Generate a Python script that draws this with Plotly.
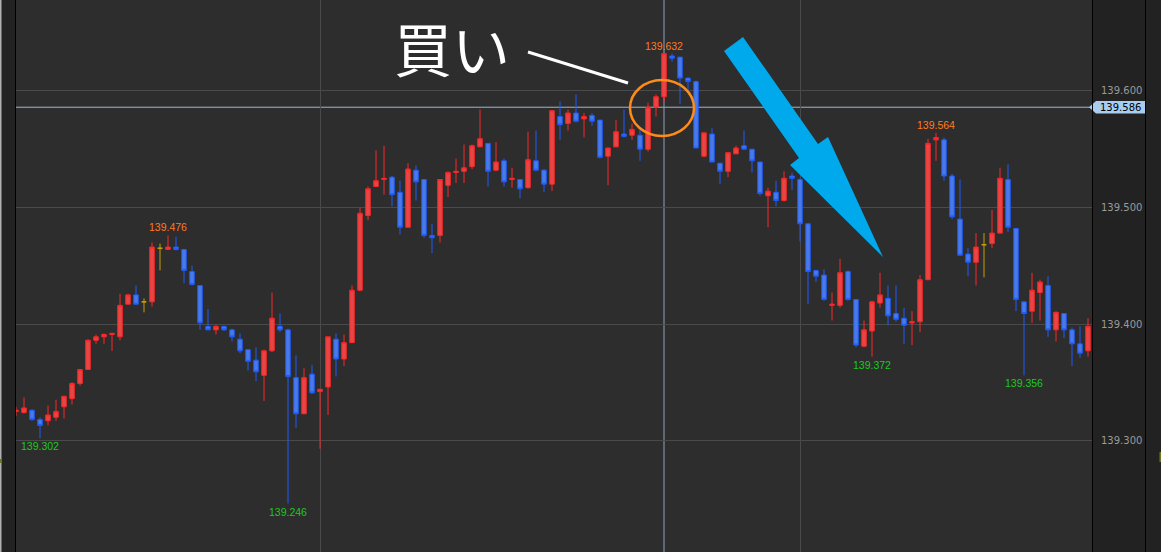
import plotly.graph_objects as go

# ---------------- data ----------------
opens = [139.325, 139.324, 139.326, 139.318, 139.317, 139.320, 139.329, 139.336, 139.349, 139.361,
         139.386, 139.389, 139.391, 139.389, 139.417, 139.425, 139.419, 139.419, 139.465, 139.464,
         139.466, 139.464, 139.445, 139.433, 139.398, 139.395, 139.398, 139.395, 139.387, 139.378,
         139.369, 139.356, 139.377, 139.398, 139.395, 139.354, 139.323, 139.357, 139.342, 139.346,
         139.387, 139.370, 139.384, 139.429, 139.493, 139.518, 139.524, 139.526, 139.513, 139.483,
         139.532, 139.524, 139.476, 139.476, 139.519, 139.530, 139.531, 139.535, 139.552, 139.555,
         139.532, 139.540, 139.524, 139.524, 139.517, 139.540, 139.532, 139.520, 139.578, 139.572,
         139.581, 139.576, 139.579, 139.575, 139.544, 139.552, 139.563, 139.562, 139.562, 139.550,
         139.586, 139.595, 139.630, 139.629, 139.611, 139.608, 139.544, 139.563, 139.538, 139.531,
         139.546, 139.553, 139.550, 139.539, 139.510, 139.513, 139.506, 139.527, 139.524, 139.486,
         139.446, 139.442, 139.416, 139.416, 139.445, 139.421, 139.381, 139.394, 139.418, 139.422,
         139.409, 139.405, 139.401, 139.402, 139.438, 139.558, 139.558, 139.527, 139.490, 139.460,
         139.453, 139.468, 139.469, 139.478, 139.524, 139.482, 139.419, 139.411, 139.427, 139.433,
         139.395, 139.409, 139.395, 139.383, 139.377]
highs = [139.329, 139.337, 139.327, 139.320, 139.330, 139.335, 139.338, 139.350, 139.361, 139.387,
         139.391, 139.392, 139.392, 139.426, 139.426, 139.433, 139.422, 139.470, 139.469, 139.476,
         139.475, 139.464, 139.450, 139.433, 139.413, 139.399, 139.398, 139.396, 139.392, 139.378,
         139.380, 139.378, 139.427, 139.409, 139.396, 139.373, 139.362, 139.365, 139.344, 139.389,
         139.392, 139.391, 139.433, 139.500, 139.518, 139.549, 139.553, 139.527, 139.523, 139.538,
         139.536, 139.524, 139.486, 139.524, 139.531, 139.542, 139.554, 139.554, 139.584, 139.555,
         139.556, 139.542, 139.534, 139.524, 139.565, 139.566, 139.533, 139.583, 139.591, 139.584,
         139.597, 139.581, 139.581, 139.575, 139.551, 139.575, 139.584, 139.572, 139.567, 139.590,
         139.597, 139.632, 139.632, 139.629, 139.611, 139.609, 139.564, 139.568, 139.538, 139.547,
         139.553, 139.566, 139.550, 139.539, 139.517, 139.523, 139.531, 139.530, 139.525, 139.486,
         139.446, 139.447, 139.427, 139.456, 139.446, 139.421, 139.403, 139.420, 139.444, 139.433,
         139.433, 139.414, 139.411, 139.442, 139.559, 139.564, 139.560, 139.529, 139.524, 139.465,
         139.478, 139.478, 139.498, 139.534, 139.537, 139.482, 139.419, 139.444, 139.438, 139.441,
         139.411, 139.409, 139.397, 139.398, 139.405]
lows = [139.321, 139.323, 139.317, 139.302, 139.313, 139.317, 139.319, 139.331, 139.347, 139.361,
        139.383, 139.383, 139.377, 139.386, 139.417, 139.417, 139.410, 139.415, 139.446, 139.464,
        139.463, 139.435, 139.433, 139.395, 139.395, 139.391, 139.394, 139.385, 139.375, 139.360,
        139.351, 139.334, 139.376, 139.393, 139.246, 139.311, 139.323, 139.340, 139.293, 139.322,
        139.355, 139.364, 139.384, 139.428, 139.489, 139.518, 139.511, 139.501, 139.477, 139.483,
        139.506, 139.474, 139.461, 139.470, 139.509, 139.521, 139.521, 139.533, 139.552, 139.518,
        139.531, 139.518, 139.517, 139.508, 139.516, 139.531, 139.513, 139.514, 139.558, 139.566,
        139.573, 139.560, 139.570, 139.542, 139.519, 139.552, 139.560, 139.558, 139.540, 139.548,
        139.578, 139.590, 139.625, 139.589, 139.600, 139.551, 139.543, 139.539, 139.520, 139.526,
        139.546, 139.550, 139.530, 139.510, 139.483, 139.501, 139.505, 139.515, 139.471, 139.417,
        139.436, 139.420, 139.403, 139.414, 139.420, 139.380, 139.380, 139.372, 139.414, 139.399,
        139.402, 139.383, 139.382, 139.393, 139.438, 139.540, 139.523, 139.490, 139.459, 139.441,
        139.433, 139.440, 139.465, 139.478, 139.479, 139.411, 139.356, 139.401, 139.403, 139.389,
        139.385, 139.388, 139.364, 139.371, 139.372]
closes = [139.326, 139.328, 139.318, 139.313, 139.322, 139.325, 139.338, 139.349, 139.361, 139.386,
          139.389, 139.391, 139.392, 139.416, 139.425, 139.417, 139.419, 139.466, 139.465, 139.466,
          139.464, 139.446, 139.434, 139.401, 139.395, 139.398, 139.395, 139.389, 139.377, 139.368,
          139.359, 139.377, 139.405, 139.395, 139.355, 139.323, 139.354, 139.341, 139.344, 139.389,
          139.370, 139.384, 139.429, 139.495, 139.516, 139.523, 139.525, 139.511, 139.483, 139.533,
          139.522, 139.476, 139.474, 139.524, 139.530, 139.531, 139.534, 139.553, 139.559, 139.531,
          139.539, 139.522, 139.525, 139.516, 139.541, 139.532, 139.520, 139.583, 139.571, 139.581,
          139.574, 139.578, 139.574, 139.543, 139.551, 139.565, 139.561, 139.567, 139.550, 139.586,
          139.595, 139.632, 139.628, 139.611, 139.608, 139.551, 139.564, 139.539, 139.531, 139.547,
          139.551, 139.550, 139.540, 139.512, 139.514, 139.506, 139.525, 139.525, 139.486, 139.445,
          139.441, 139.421, 139.417, 139.444, 139.421, 139.382, 139.395, 139.419, 139.425, 139.407,
          139.404, 139.399, 139.402, 139.438, 139.555, 139.560, 139.527, 139.492, 139.459, 139.453,
          139.466, 139.468, 139.478, 139.525, 139.483, 139.421, 139.409, 139.429, 139.436, 139.395,
          139.410, 139.395, 139.383, 139.375, 139.398]

high_label_idx = [19, 81, 115]
low_label_idx = [3, 34, 107, 126]
y_ticks = [139.300, 139.400, 139.500, 139.600]
session_lines = [38, 98]
cross_idx = 81
cross_price = 139.586
buy_text = "買い"

# ---------------- layout helpers ----------------
W, H = 1161, 552
ML, MR = 16, 69
PW = W - ML - MR


def px(x):
    return (x - ML) / PW


def py(y):
    return (H - y) / H


idx = list(range(len(opens)))
doji = [i for i in idx if opens[i] == closes[i]]
norm = [i for i in idx if opens[i] != closes[i]]

fig = go.Figure()
fig.add_trace(go.Candlestick(
    x=norm,
    open=[opens[i] for i in norm], high=[highs[i] for i in norm],
    low=[lows[i] for i in norm], close=[closes[i] for i in norm],
    increasing=dict(line=dict(color="#ff2626", width=1), fillcolor="#e64646"),
    decreasing=dict(line=dict(color="#1f5cff", width=1), fillcolor="#4a7ae6"),
    hoverinfo="skip", showlegend=False,
))
fig.add_trace(go.Candlestick(
    x=doji,
    open=[opens[i] for i in doji], high=[highs[i] for i in doji],
    low=[lows[i] for i in doji], close=[closes[i] for i in doji],
    increasing=dict(line=dict(color="#c89e00", width=1), fillcolor="#c89e00"),
    decreasing=dict(line=dict(color="#c89e00", width=1), fillcolor="#c89e00"),
    hoverinfo="skip", showlegend=False,
))

anns = []
for i in high_label_idx:
    anns.append(dict(x=i, y=highs[i], xref="x", yref="y", text=f"{highs[i]:.3f}",
                     showarrow=False, yshift=8, xanchor="center", yanchor="middle",
                     font=dict(family="Liberation Sans", size=10.5, color="#ff7a1e")))
for i in low_label_idx:
    anns.append(dict(x=i, y=lows[i], xref="x", yref="y", text=f"{lows[i]:.3f}",
                     showarrow=False, yshift=-8, xanchor="center", yanchor="middle",
                     font=dict(family="Liberation Sans", size=10.5, color="#1ec81e")))
anns.append(dict(x=px(452), y=py(47), xref="paper", yref="paper", text=buy_text,
                 showarrow=False, xanchor="center", yanchor="middle",
                 font=dict(family="Noto Sans CJK JP", size=58, color="#ffffff")))
anns.append(dict(x=px(1120), y=cross_price, xref="paper", yref="y", text=f"{cross_price:.3f}",
                 showarrow=False, xanchor="center", yanchor="middle",
                 font=dict(family="DejaVu Sans", size=10, color="#000000")))

hh = 6.2 * (139.678 - 139.2044) / H
shapes = [
    # crosshair
    dict(type="line", xref="paper", yref="y", x0=0, x1=1, y0=cross_price, y1=cross_price,
         line=dict(color="#9ab6d4", width=1), layer="below"),
    dict(type="line", xref="x", yref="paper", x0=cross_idx, x1=cross_idx, y0=0, y1=1,
         line=dict(color="#8ea4bc", width=1), layer="below"),
    # price tag
    dict(type="path", xref="paper", yref="y",
         path=(f"M {px(1089)},{cross_price} L {px(1096)},{cross_price + hh} "
               f"L {px(1145)},{cross_price + hh} L {px(1145)},{cross_price - hh} "
               f"L {px(1096)},{cross_price - hh} Z"),
         fillcolor="#a9cdef", line=dict(color="#a9cdef", width=0)),
    # panel borders
    dict(type="rect", xref="paper", yref="paper", x0=px(0), x1=px(1.5), y0=0, y1=1,
         fillcolor="#b0b0b0", line=dict(width=0)),
    dict(type="line", xref="paper", yref="paper", x0=px(15.5), x1=px(15.5), y0=0, y1=1,
         line=dict(color="#000000", width=1)),
    dict(type="line", xref="paper", yref="paper", x0=px(1092.5), x1=px(1092.5), y0=0, y1=1,
         line=dict(color="#000000", width=1)),
    dict(type="line", xref="paper", yref="paper", x0=px(1145.5), x1=px(1145.5), y0=0, y1=1,
         line=dict(color="#000000", width=1)),
    dict(type="rect", xref="paper", yref="paper", x0=px(1159.5), x1=px(1161), y0=py(462), y1=py(452),
         fillcolor="#6a7a20", line=dict(width=0)),
    dict(type="rect", xref="paper", yref="paper", x0=px(0), x1=px(1.5), y0=py(463), y1=py(459),
         fillcolor="#6a7a20", line=dict(width=0)),
    # white pointer line
    dict(type="line", xref="paper", yref="paper", x0=px(528), y0=py(52), x1=px(628), y1=py(83),
         line=dict(color="#ffffff", width=3)),
    # orange circle
    dict(type="circle", xref="paper", yref="paper", x0=px(630), x1=px(694), y0=py(136), y1=py(80),
         line=dict(color="#ff8c1a", width=2.5)),
    # cyan arrow
    dict(type="path", xref="paper", yref="paper",
         path=(f"M {px(724)},{py(51)} L {px(743)},{py(37)} L {px(818)},{py(144)} "
               f"L {px(828)},{py(137)} L {px(883)},{py(257)} L {px(790)},{py(165)} "
               f"L {px(799)},{py(158)} Z"),
         fillcolor="#00a8ec", line=dict(color="#00a8ec", width=0)),
]

fig.update_layout(
    width=W, height=H, autosize=False,
    margin=dict(l=ML, r=MR, t=0, b=0, pad=0),
    paper_bgcolor="#222222", plot_bgcolor="#2d2d2d",
    showlegend=False, boxgap=0.2,
    annotations=anns, shapes=shapes,
    xaxis=dict(range=[0, (PW) / 8], tickvals=session_lines, showgrid=True,
               gridcolor="#4a4a4a", gridwidth=1, showticklabels=False, ticks="",
               zeroline=False, showline=False, rangeslider=dict(visible=False), fixedrange=True),
    yaxis=dict(range=[139.2044, 139.678], side="right", tickvals=y_ticks,
               ticktext=[f"{v:.3f}" for v in y_ticks], showgrid=True, gridcolor="#4a4a4a",
               gridwidth=1, ticks="outside", ticklen=6, tickcolor="#222222",
               tickfont=dict(family="DejaVu Sans", size=10, color="#9a9a9a"),
               zeroline=False, showline=False, fixedrange=True),
)

fig.write_html(
    "out.html",
    config={"displayModeBar": False},
    post_script=("document.body.style.margin='0px';"
                 "document.body.style.overflow='hidden';"
                 "document.body.style.background='#222222';"),
)
